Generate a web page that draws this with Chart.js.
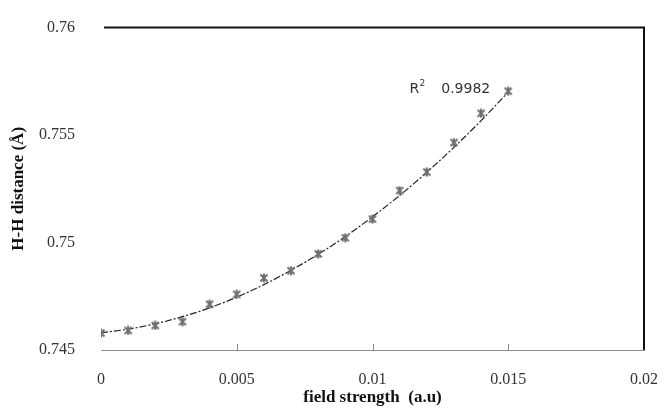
<!DOCTYPE html>
<html>
<head>
<meta charset="utf-8">
<script src="https://cdn.jsdelivr.net/npm/chart.js@4.4.0/dist/chart.umd.min.js"></script>
<style>
  html, body { margin: 0; padding: 0; background: #ffffff; }
  #wrap { width: 670px; height: 414px; position: relative; }
</style>
</head>
<body>
<div id="wrap"><canvas id="c" width="670" height="414"></canvas></div>
<script>
// ---- data ----
const fieldStrength = [0, 0.001, 0.002, 0.003, 0.004, 0.005, 0.006, 0.007, 0.008, 0.009, 0.010, 0.011, 0.012, 0.013, 0.014, 0.015];
const hhDistance = [0.74579, 0.74591, 0.74614, 0.74632, 0.74713, 0.74759, 0.74835, 0.74869, 0.74947, 0.75022, 0.75109, 0.75242, 0.75328, 0.75465, 0.75601, 0.75704];
const trendDistance = [0.74580, 0.74597, 0.74622, 0.74655, 0.74696, 0.74746, 0.74804, 0.74871, 0.74945, 0.75028, 0.75120, 0.75219, 0.75327, 0.75443, 0.75567, 0.75700];
const xTickValues = [0, 0.005, 0.01, 0.015, 0.02];
const xTickLabels = ["0", "0.005", "0.01", "0.015", "0.02"];
const yTickValues = [0.745, 0.75, 0.755, 0.76];
const yTickLabels = ["0.745", "0.75", "0.755", "0.76"];
const rSquaredText = "0.9982";

// asterisk-like marker (x with vertical stroke)
function makeMarker(size, color) {
  const c = document.createElement('canvas');
  c.width = size; c.height = size;
  const g = c.getContext('2d');
  g.strokeStyle = color; g.lineWidth = 2; g.lineCap = 'butt';
  const m = 1.5, s = size;
  g.beginPath();
  g.moveTo(m, m); g.lineTo(s - m, s - m);
  g.moveTo(s - m, m); g.lineTo(m, s - m);
  g.moveTo(s / 2, 0.5); g.lineTo(s / 2, s - 0.5);
  g.stroke();
  return c;
}
const marker = makeMarker(10, '#6f6f6f');

const framePlugin = {
  id: 'frame',
  afterDraw(chart) {
    const ctx = chart.ctx;
    const a = chart.chartArea;
    const xs = chart.scales.x;
    ctx.save();
    // inner tick marks on bottom axis
    ctx.strokeStyle = '#8c8c8c';
    ctx.lineWidth = 1;
    xs.ticks.forEach(t => {
      if (t.value === 0) return;
      const px = Math.round(xs.getPixelForValue(t.value)) + 0.5;
      ctx.beginPath();
      ctx.moveTo(px, a.bottom);
      ctx.lineTo(px, a.bottom - 6);
      ctx.stroke();
    });
    // top and right border
    ctx.strokeStyle = '#111111';
    ctx.lineWidth = 2;
    ctx.beginPath();
    ctx.moveTo(a.left + 3, a.top);
    ctx.lineTo(a.right, a.top);
    ctx.lineTo(a.right, a.bottom);
    ctx.stroke();
    // R^2 annotation
    const last = fieldStrength.length - 1;
    const ys = chart.scales.y;
    const lx = xs.getPixelForValue(fieldStrength[last]);
    const ly = ys.getPixelForValue(hhDistance[last]);
    ctx.fillStyle = '#333333';
    ctx.textBaseline = 'alphabetic';
    ctx.font = '14px "DejaVu Sans"';
    ctx.textAlign = 'right';
    ctx.fillText(rSquaredText, lx - 18, ly + 2);
    const w = ctx.measureText(rSquaredText).width;
    ctx.font = '9px "DejaVu Sans"';
    ctx.fillText('2', lx - 18 - w - 16, ly - 5);
    ctx.font = '14px "DejaVu Sans"';
    ctx.fillText('R', lx - 18 - w - 22, ly + 2);
    ctx.restore();
  }
};

new Chart(document.getElementById('c'), {
  type: 'scatter',
  data: {
    datasets: [
      {
        type: 'line',
        label: 'trend',
        data: fieldStrength.map((x, i) => ({ x: x, y: trendDistance[i] })),
        borderColor: '#222222',
        borderWidth: 1.2,
        borderDash: [7, 2, 2, 2],
        pointRadius: 0,
        cubicInterpolationMode: 'monotone',
        fill: false,
        order: 2
      },
      {
        label: 'H-H distance',
        data: fieldStrength.map((x, i) => ({ x: x, y: hhDistance[i] })),
        pointStyle: marker,
        pointRadius: 5,
        showLine: false,
        order: 1
      }
    ]
  },
  options: {
    responsive: false,
    animation: false,
    devicePixelRatio: 1,
    layout: { padding: { left: 0, right: 17, top: 22, bottom: 0 } },
    plugins: { legend: { display: false }, tooltip: { enabled: false } },
    scales: {
      x: {
        type: 'linear',
        min: 0, max: 0.02,
        afterBuildTicks: s => { s.ticks = xTickValues.map(v => ({ value: v })); },
        afterFit: s => { s.height = 64; },
        grid: { display: false },
        border: { display: true, color: '#8c8c8c', width: 1 },
        ticks: {
          padding: 12,
          color: '#333333',
          font: { family: '"Liberation Serif"', size: 16 },
          callback: (v, i) => xTickLabels[i],
          maxRotation: 0
        },
        title: {
          display: true,
          text: 'field strength  (a.u)',
          color: '#111111',
          font: { family: '"Liberation Serif"', size: 17, weight: 'bold' },
          padding: { top: 4, bottom: 6 }
        }
      },
      y: {
        type: 'linear',
        min: 0.745, max: 0.76,
        afterBuildTicks: s => { s.ticks = yTickValues.map(v => ({ value: v })); },
        afterFit: s => { s.width = 101; },
        grid: { display: false },
        border: { display: false },
        ticks: {
          padding: 18,
          color: '#333333',
          font: { family: '"Liberation Serif"', size: 16 },
          callback: (v, i) => yTickLabels[i]
        },
        title: {
          display: true,
          text: 'H-H distance (Å)',
          color: '#111111',
          font: { family: '"Liberation Serif"', size: 17, weight: 'bold' },
          padding: { top: 8, bottom: 0 }
        }
      }
    }
  },
  plugins: [framePlugin]
});
</script>
</body>
</html>
